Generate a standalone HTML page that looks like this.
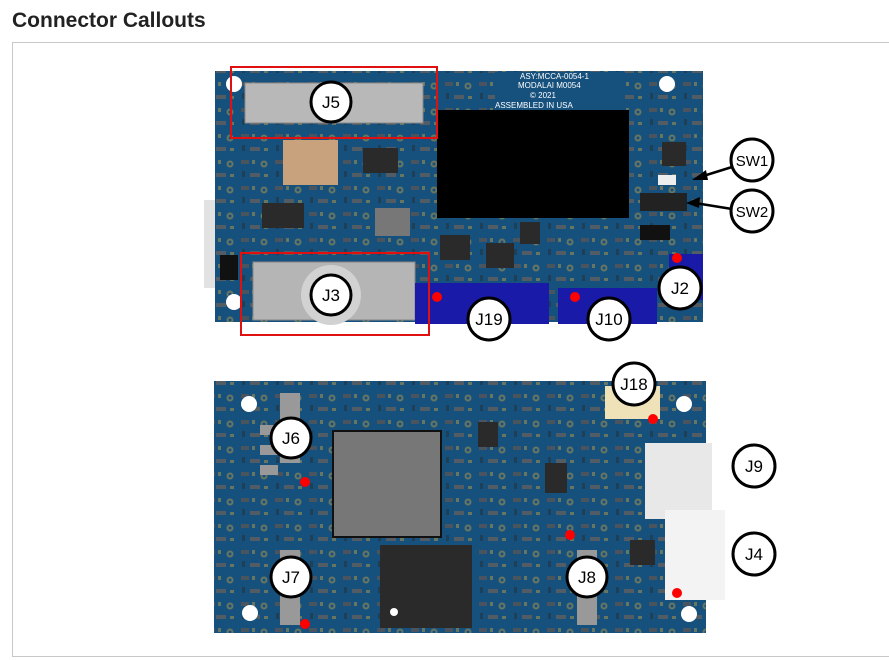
<!DOCTYPE html>
<html><head><style>
body{margin:0;width:889px;height:660px;background:#fff;overflow:hidden;font-family:"Liberation Sans",sans-serif;}
h1{position:absolute;left:12px;top:9px;margin:0;font-size:21px;font-weight:bold;color:#222;}
.frame{position:absolute;left:12px;top:42px;width:890px;height:615px;border:1px solid #c8c8c8;box-sizing:border-box;}
svg{position:absolute;left:0;top:0;}
</style></head><body>
<h1>Connector Callouts</h1>
<div class="frame"></div>
<svg width="889" height="660" font-family="Liberation Sans, sans-serif">
<defs>
<pattern id="p" x="0" y="0" width="34" height="26" patternUnits="userSpaceOnUse">
<rect x="3" y="4" width="8" height="4" fill="#8a5a3c"/>
<rect x="14" y="4" width="3" height="4" fill="#c9a441"/>
<circle cx="26" cy="8" r="3.5" fill="#c9a441"/>
<circle cx="26" cy="8" r="1.5" fill="#16507c"/>
<rect x="4" y="15" width="3" height="6" fill="#2a2a2a"/>
<rect x="12" y="17" width="10" height="4" fill="#9b6a48"/>
<rect x="26" y="18" width="4" height="3" fill="#c9a441"/>
</pattern>
</defs>
<!-- top board -->
<rect x="204" y="200" width="12" height="88" fill="#e2e2e2"/>
<rect x="215" y="71" width="488" height="251" fill="#16507c"/>
<rect x="215" y="71" width="488" height="251" fill="url(#p)" opacity="0.45"/>
<g fill="#fff"><circle cx="234" cy="84" r="8"/><circle cx="667" cy="84" r="8"/><circle cx="234" cy="302" r="8"/></g>
<rect x="220" y="255" width="18" height="25" fill="#111"/>
<rect x="245" y="83" width="178" height="40" fill="#b8b8b8" stroke="#888"/>
<rect x="283" y="140" width="55" height="45" fill="#c8a27c"/>
<rect x="437" y="110" width="192" height="108" fill="#000"/>
<rect x="363" y="148" width="35" height="25" fill="#2a2a2a"/>
<rect x="262" y="203" width="42" height="25" fill="#2a2a2a"/>
<rect x="375" y="208" width="35" height="28" fill="#777"/>
<rect x="440" y="235" width="30" height="25" fill="#2a2a2a"/>
<rect x="486" y="243" width="28" height="25" fill="#2a2a2a"/>
<rect x="520" y="222" width="20" height="22" fill="#2a2a2a"/>
<rect x="662" y="142" width="24" height="24" fill="#2a2a2a"/>
<rect x="640" y="225" width="30" height="15" fill="#111"/>
<rect x="640" y="193" width="47" height="18" fill="#222"/>
<rect x="658" y="175" width="18" height="10" fill="#eee"/>
<rect x="495" y="72" width="130" height="38" fill="#16507c"/>
<text x="520" y="79" font-size="8" fill="#fff">ASY:MCCA-0054-1</text>
<text x="518" y="88" font-size="8" fill="#fff">MODALAI  M0054</text>
<text x="530" y="98" font-size="8" fill="#fff">© 2021</text>
<text x="495" y="108" font-size="8" fill="#fff">ASSEMBLED IN USA</text>
<rect x="253" y="262" width="162" height="58" fill="#b5b5b5" stroke="#888"/>
<circle cx="331" cy="295" r="30" fill="#d2d2d2"/>
<rect x="415" y="283" width="134" height="41" fill="#1a1aa8"/>
<rect x="558" y="288" width="99" height="36" fill="#1a1aa8"/>
<rect x="669" y="254" width="34" height="46" fill="#1a1aa8"/>
<rect x="231" y="67" width="206" height="71" fill="none" stroke="#e01010" stroke-width="2"/>
<rect x="241" y="253" width="188" height="82" fill="none" stroke="#e01010" stroke-width="2"/>
<g fill="#f00"><circle cx="437" cy="297" r="5"/><circle cx="575" cy="297" r="5"/><circle cx="677" cy="258" r="5"/></g>
<!-- arrows -->
<g stroke="#000" stroke-width="2.5"><line x1="732" y1="167" x2="700" y2="177"/><line x1="732" y1="209" x2="695" y2="203"/></g>
<polygon points="692,180 706,170 708,180" fill="#000"/>
<polygon points="686,203 700,197 699,208" fill="#000"/>
<!-- bottom board -->
<rect x="214" y="381" width="492" height="252" fill="#16507c"/>
<rect x="214" y="381" width="492" height="252" fill="url(#p)" opacity="0.45"/>
<g fill="#fff"><circle cx="249" cy="404" r="8"/><circle cx="684" cy="404" r="8"/><circle cx="250" cy="613" r="8"/><circle cx="689" cy="614" r="8"/></g>
<rect x="333" y="431" width="108" height="106" fill="#777" stroke="#111" stroke-width="2"/>
<rect x="380" y="545" width="92" height="83" fill="#2a2a2a"/>
<circle cx="394" cy="612" r="4" fill="#fff"/>
<rect x="605" y="386" width="55" height="33" fill="#efe2b8"/>
<rect x="645" y="443" width="67" height="76" fill="#e8e8e8"/>
<rect x="665" y="510" width="60" height="90" fill="#f3f3f3"/>
<g fill="#999"><rect x="280" y="393" width="20" height="70"/><rect x="280" y="550" width="20" height="75"/><rect x="577" y="550" width="20" height="75"/><rect x="260" y="425" width="18" height="10"/><rect x="260" y="445" width="18" height="10"/><rect x="260" y="465" width="18" height="10"/></g>
<rect x="478" y="422" width="20" height="25" fill="#2a2a2a"/>
<rect x="545" y="463" width="22" height="30" fill="#2a2a2a"/>
<rect x="630" y="540" width="25" height="25" fill="#2a2a2a"/>
<g fill="#f00"><circle cx="305" cy="482" r="5"/><circle cx="305" cy="624" r="5"/><circle cx="653" cy="419" r="5"/><circle cx="570" cy="535" r="5"/><circle cx="677" cy="593" r="5"/></g>
<!-- callouts -->
<g fill="#fff" stroke="#000" stroke-width="3">
<circle cx="331" cy="102" r="20"/><circle cx="331" cy="295" r="20"/><circle cx="489" cy="319" r="21"/><circle cx="609" cy="319" r="21"/><circle cx="680" cy="288" r="21"/><circle cx="752" cy="160" r="21"/><circle cx="752" cy="211" r="21"/>
<circle cx="634" cy="384" r="21"/><circle cx="291" cy="438" r="20"/><circle cx="291" cy="577" r="20"/><circle cx="587" cy="577" r="20"/><circle cx="754" cy="466" r="21"/><circle cx="754" cy="554" r="21"/>
</g>
<g font-size="17" text-anchor="middle" fill="#000">
<text x="331" y="108">J5</text><text x="331" y="301">J3</text><text x="489" y="325">J19</text><text x="609" y="325">J10</text><text x="680" y="294">J2</text><text x="752" y="166" font-size="15">SW1</text><text x="752" y="217" font-size="15">SW2</text>
<text x="634" y="390">J18</text><text x="291" y="444">J6</text><text x="291" y="583">J7</text><text x="587" y="583">J8</text><text x="754" y="472">J9</text><text x="754" y="560">J4</text>
</g>
</svg>
</body></html>
